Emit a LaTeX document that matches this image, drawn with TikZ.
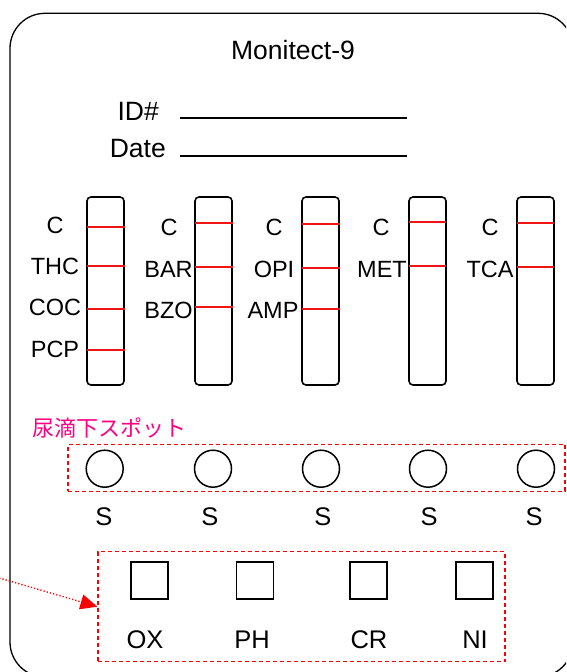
\documentclass[tikz,border=0pt]{standalone}
\usepackage{fontspec}
\setmainfont{Liberation Sans}
\newfontfamily\cjk{Noto Sans CJK JP}
\usetikzlibrary{arrows.meta}
\definecolor{pinkjp}{RGB}{255,0,128}
\definecolor{stripred}{RGB}{240,20,20}
\begin{document}
\begin{tikzpicture}[x=1pt,y=-1pt,
  hdr/.style={inner sep=0pt,font=\fontsize{26.5}{30}\selectfont},
  lab/.style={inner sep=0pt,anchor=base,font=\fontsize{23.5}{26}\selectfont},
  blab/.style={inner sep=0pt,anchor=base,font=\fontsize{25.5}{30}\selectfont},
  stripbox/.style={draw,line width=1.6pt,rounded corners=4pt,minimum width=37pt,minimum height=188pt,inner sep=0pt},
  redline/.style={draw=stripred,line width=1.5pt},
  spot/.style={draw,circle,line width=1.5pt,minimum size=37pt,inner sep=0pt},
  padbox/.style={draw,rectangle,line width=1.7pt,minimum size=37pt,inner sep=0pt},
  dashbox/.style={draw=red,line width=1.1pt,dash pattern=on 4pt off 3pt,inner sep=0pt},
  pointer/.style={draw=red,line width=1.3pt,dash pattern=on 1.3pt off 2pt,-{Triangle[length=17pt,width=15pt,fill=red]}}
]
\useasboundingbox (0,0) rectangle (566,672);
\clip (0,0) rectangle (566,672);
% outer card
\draw[line width=1.3pt,rounded corners=35pt] (10,13.3) rectangle (573,677);
% header
\node[hdr,anchor=base] (title) at (293,59) {Monitect-9};
\node[hdr,anchor=base east] (idl) at (159,120) {ID\#};
\node[hdr,anchor=base east] (datel) at (166,157) {Date};
\draw[line width=1.2pt] (180,118) -- (407,118);
\draw[line width=1.2pt] (180,156) -- (407,156);
% strips
\node[stripbox] (s1) at (105.5,291) {};
\node[stripbox] (s2) at (213.5,291) {};
\node[stripbox] (s3) at (320.5,291) {};
\node[stripbox] (s4) at (427.5,291) {};
\node[stripbox] (s5) at (535.5,291) {};
% red lines
\foreach \y in {227,266,309,350} \draw[redline] (87,\y) -- (124.5,\y);
\foreach \y in {223,267,307} \draw[redline] (195,\y) -- (233,\y);
\foreach \y in {224,268,309} \draw[redline] (302,\y) -- (340,\y);
\foreach \y in {222,266} \draw[redline] (409,\y) -- (446,\y);
\foreach \y in {223,267} \draw[redline] (517,\y) -- (554,\y);
% strip labels
\node[lab] (a1) at (55,233) {C};
\node[lab] (a2) at (55,274) {THC};
\node[lab] (a3) at (55,315) {COC};
\node[lab] (a4) at (55,357) {PCP};
\node[lab] (b1) at (169,235) {C};
\node[lab] (b2) at (168.5,277) {BAR};
\node[lab] (b3) at (168.5,318) {BZO};
\node[lab] (c1) at (274,235) {C};
\node[lab] (c2) at (274,277) {OPI};
\node[lab] (c3) at (273,318) {AMP};
\node[lab] (d1) at (381,235) {C};
\node[lab] (d2) at (382,277) {MET};
\node[lab] (e1) at (490,235) {C};
\node[lab] (e2) at (490,277) {TCA};
% spot area
\node[inner sep=0pt,anchor=base west,text=pinkjp,font=\cjk\fontsize{22}{26}\selectfont] (jp) at (32,436) {尿滴下スポット};
\node[dashbox,minimum width=497pt,minimum height=46.7pt] (spotbox) at (316.5,467.7) {};
\node[spot] (p1) at (104.7,468.7) {};
\node[spot] (p2) at (213,468.7) {};
\node[spot] (p3) at (321,468.7) {};
\node[spot] (p4) at (428,468.7) {};
\node[spot] (p5) at (536,468.7) {};
\node[blab] (sl1) at (104,525) {S};
\node[blab] (sl2) at (210,525) {S};
\node[blab] (sl3) at (323,525) {S};
\node[blab] (sl4) at (429,525) {S};
\node[blab] (sl5) at (534,525) {S};
% adulteration pads
\node[dashbox,minimum width=407pt,minimum height=110pt] (oxbox) at (301.5,606.7) {};
\node[padbox] (q1) at (149.3,580.5) {};
\node[padbox] (q2) at (255,580.5) {};
\node[padbox] (q3) at (368.5,580.5) {};
\node[padbox] (q4) at (474.5,580.5) {};
\node[blab] (ql1) at (145,648) {OX};
\node[blab] (ql2) at (252,648) {PH};
\node[blab] (ql3) at (369,648) {CR};
\node[blab] (ql4) at (475,648) {NI};
% pointer
\coordinate (src) at (-4,577);
\draw[pointer] (src) -- (oxbox.west);
\end{tikzpicture}
\end{document}
